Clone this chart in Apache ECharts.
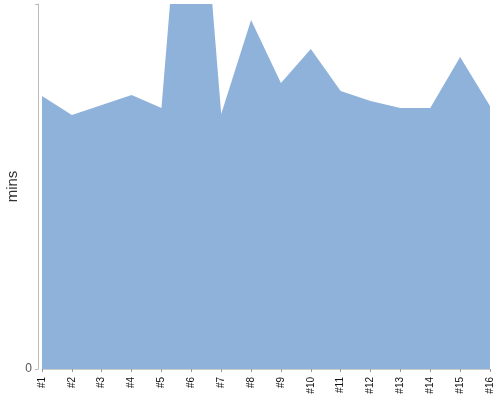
<!DOCTYPE html>
<html>
<head>
<meta charset="utf-8">
<script src="https://cdn.jsdelivr.net/npm/echarts@6/dist/echarts.min.js"></script>
<style>html,body{margin:0;padding:0;background:#fff}#c{width:500px;height:400px}</style>
</head>
<body>
<div id="c"></div>
<script>
var categories = ['#1','#2','#3','#4','#5','#6','#7','#8','#9','#10','#11','#12','#13','#14','#15','#16'];
var mins = [27.3, 25.4, 26.4, 27.4, 26.1, 62.5, 25.5, 34.9, 28.6, 32.0, 27.8, 26.8, 26.1, 26.1, 31.2, 26.3];
var yMax = 36.5;

var chart = echarts.init(document.getElementById('c'));
chart.setOption({
  animation: false,
  grid: {left: 42, right: 10, top: 4, bottom: 31, outerBoundsMode: 'none', containLabel: false},
  xAxis: {
    type: 'category',
    data: categories,
    boundaryGap: false,
    offset: 1,
    axisLine: {show: true, lineStyle: {color: '#ccc', width: 1}},
    axisTick: {show: true, alignWithLabel: true, length: 3, lineStyle: {color: '#999'}},
    axisLabel: {rotate: 90, fontSize: 10, color: '#111', fontFamily: 'Liberation Sans', margin: 7, interval: 0}
  },
  yAxis: {
    type: 'value',
    min: 0,
    max: yMax,
    interval: yMax,
    offset: 4,
    name: 'mins',
    nameLocation: 'middle',
    nameGap: 18,
    nameMoveOverlap: false,
    nameTextStyle: {fontSize: 15, color: '#333', fontFamily: 'Liberation Sans'},
    axisLine: {show: true, lineStyle: {color: '#bbb', width: 1}},
    axisTick: {show: true, length: 3, lineStyle: {color: '#bbb'}},
    splitLine: {show: false},
    axisLabel: {
      fontSize: 12, color: '#555', fontFamily: 'Liberation Sans', margin: 6,
      formatter: function (v) { return v === 0 ? '0' : ''; }
    }
  },
  series: [{
    type: 'line',
    data: mins,
    clip: true,
    symbol: 'none',
    lineStyle: {width: 0},
    areaStyle: {color: '#8fb2db', opacity: 1}
  }]
});
</script>
</body>
</html>
